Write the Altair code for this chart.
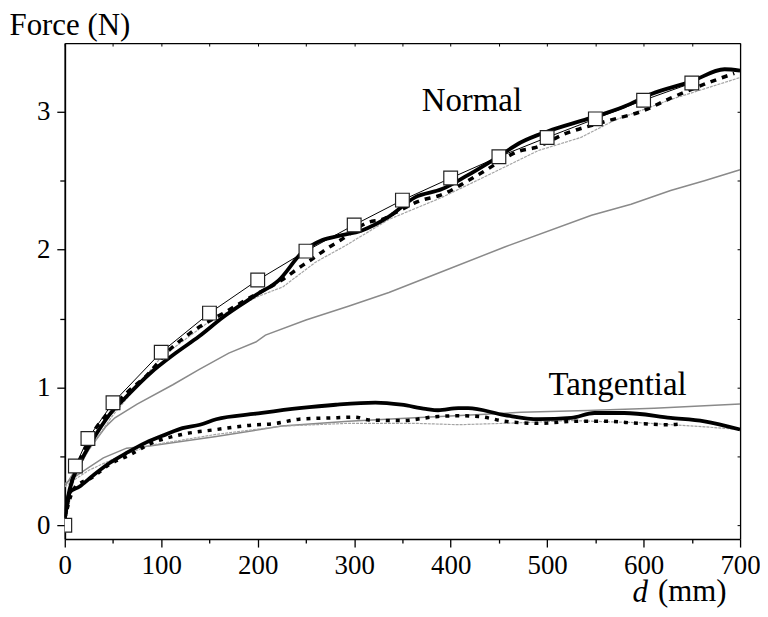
import altair as alt
import pandas as pd

# ---------------- data ----------------
# Normal force
n_sq_x = [0, 11, 24, 50, 100, 150, 200, 250, 300, 350, 400, 450, 500, 550, 600, 650]
n_sq_y = [0, 0.43, 0.63, 0.89, 1.256, 1.54, 1.78, 1.99, 2.18, 2.36, 2.52, 2.675, 2.815, 2.95, 3.085, 3.21]

n_thick_x = [0, 5, 15, 29, 46, 64, 88, 115, 139, 164, 198, 222, 246, 267, 284, 308, 336, 363, 391, 415, 446, 473, 501, 542, 580, 608, 649, 684, 700]
n_thick_y = [0.06, 0.26, 0.44, 0.62, 0.80, 0.935, 1.1, 1.25, 1.37, 1.51, 1.67, 1.78, 1.98, 2.07, 2.10, 2.14, 2.24, 2.38, 2.44, 2.53, 2.66, 2.78, 2.86, 2.95, 3.04, 3.13, 3.22, 3.31, 3.30]

n_dash_x = [0, 9, 19, 29, 43, 67, 84, 108, 129, 167, 194, 225, 244, 258, 272, 286, 315, 329, 343, 370, 387, 430, 473, 487, 518, 560, 600, 628, 670, 694]
n_dash_y = [0.05, 0.36, 0.525, 0.67, 0.80, 0.98, 1.08, 1.27, 1.39, 1.55, 1.66, 1.78, 1.875, 1.94, 2.01, 2.07, 2.2, 2.22, 2.27, 2.36, 2.39, 2.55, 2.72, 2.74, 2.84, 2.93, 3.01, 3.10, 3.22, 3.28]

n_hatch_x = [0, 10, 25, 50, 100, 150, 200, 226, 260, 291, 336, 391, 456, 491, 535, 570, 628, 700]
n_hatch_y = [0.0, 0.35, 0.55, 0.8, 1.22, 1.48, 1.66, 1.73, 1.91, 2.03, 2.22, 2.38, 2.6, 2.72, 2.815, 2.94, 3.09, 3.25]

n_gray_x = [0, 9, 25, 43, 52, 75, 112, 139, 170, 198, 208, 250, 294, 336, 398, 456, 546, 587, 628, 663, 700]
n_gray_y = [0.28, 0.38, 0.55, 0.72, 0.78, 0.88, 1.02, 1.13, 1.25, 1.33, 1.38, 1.49, 1.59, 1.69, 1.86, 2.02, 2.25, 2.33, 2.43, 2.50, 2.58]

# Tangential force
t_thick_x = [0, 5, 15, 29, 46, 64, 84, 105, 122, 140, 157, 198, 243, 281, 322, 349, 374, 387, 408, 418, 456, 491, 525, 549, 580, 628, 663, 700]
t_thick_y = [0.05, 0.24, 0.28, 0.36, 0.45, 0.525, 0.60, 0.66, 0.705, 0.73, 0.77, 0.81, 0.85, 0.875, 0.89, 0.875, 0.845, 0.835, 0.85, 0.85, 0.80, 0.77, 0.78, 0.815, 0.815, 0.78, 0.755, 0.695]

t_dot_x = [0, 10, 29, 46, 67, 88, 122, 157, 191, 219, 243, 277, 301, 315, 349, 387, 408, 429, 456, 491, 532, 560, 594, 625, 638]
t_dot_y = [0.05, 0.27, 0.35, 0.44, 0.51, 0.59, 0.66, 0.695, 0.725, 0.74, 0.77, 0.78, 0.785, 0.765, 0.76, 0.79, 0.795, 0.79, 0.755, 0.74, 0.755, 0.755, 0.74, 0.73, 0.735]

t_hatch_x = [0, 10, 25, 50, 88, 157, 225, 294, 363, 408, 456, 525, 594, 663, 700]
t_hatch_y = [0.28, 0.33, 0.4, 0.48, 0.58, 0.66, 0.72, 0.74, 0.74, 0.73, 0.74, 0.76, 0.745, 0.715, 0.695]

t_gray_x = [0, 10, 25, 40, 64, 88, 157, 225, 294, 363, 473, 542, 611, 700]
t_gray_y = [0.3, 0.35, 0.42, 0.49, 0.56, 0.575, 0.645, 0.72, 0.755, 0.78, 0.82, 0.834, 0.85, 0.88]

labels_text = ["Normal", "Tangential"]
labels_x = [422, 573]
labels_y = [3.01, 0.947]

x_major = list(range(0, 701, 100))
x_minor = list(range(50, 701, 100))
x_all = list(range(0, 701, 50))
y_major = [0, 1, 2, 3]
y_minor = [0.5, 1.5, 2.5]
y_all = [0, 0.5, 1, 1.5, 2, 2.5, 3]

FONT = "Liberation Serif"
XS = alt.Scale(domain=[0, 700], nice=False, zero=False)
YS = alt.Scale(domain=[-0.1, 3.5], nice=False, zero=False)
PLOT_W, PLOT_H = 678, 498


def df(xs, ys):
    return pd.DataFrame({"d": xs, "F": ys})


def line(xs, ys, color, width, dash=None, interp="monotone", xaxis=None, yaxis=None):
    kw = dict(color=color, strokeWidth=width, interpolate=interp, clip=True)
    if dash:
        kw["strokeDash"] = dash
    return alt.Chart(df(xs, ys)).mark_line(**kw).encode(
        x=alt.X("d:Q", scale=XS, axis=xaxis),
        y=alt.Y("F:Q", scale=YS, axis=yaxis),
    )


common = dict(grid=False, tickColor="black", domainColor="black")

# main labelled axes
bottom_major = alt.Axis(
    orient="bottom", values=x_major, title="(mm)", tickSize=8, tickWidth=1.3,
    labelPadding=6, labelFont=FONT, labelFontSize=27, labelColor="black",
    labelFlush=False, labelOverlap=False, domainWidth=1.5,
    titleFont=FONT, titleFontSize=31, titleFontWeight="normal",
    titleColor="black", titleAnchor="start", titleAlign="left",
    titleX=595, titleY=62, titleBaseline="alphabetic", **common,
)
left_major = alt.Axis(
    orient="left", values=y_major, title="Force (N)", tickSize=8, tickWidth=1.3,
    labelPadding=7, labelFont=FONT, labelFontSize=27, labelColor="black",
    labelFlush=False, labelOverlap=False, domainWidth=1.8,
    titleFont=FONT, titleFontSize=31, titleFontWeight="normal",
    titleColor="black", titleAngle=0, titleAlign="left", titleBaseline="alphabetic",
    titleX=-56, titleY=-9, **common,
)
# minor ticks on bottom / left
bottom_minor = alt.Axis(orient="bottom", values=x_minor, title=None, labels=False,
                        domain=False, tickSize=4, tickWidth=1.3, **common)
left_minor = alt.Axis(orient="left", values=y_minor, title=None, labels=False,
                      domain=False, tickSize=5, tickWidth=1.3, **common)
# top / right frame with inward ticks (bottom/left axes moved across the plot)
top_frame = alt.Axis(orient="bottom", offset=-PLOT_H, values=x_all, title=None,
                     labels=False, tickSize=3, tickWidth=1, domainWidth=1.3, **common)
right_frame = alt.Axis(orient="left", offset=-PLOT_W, values=y_all, title=None,
                       labels=False, tickSize=3, tickWidth=1, domainWidth=1.3, **common)

layers = [
    line(n_gray_x, n_gray_y, "#8a8a8a", 1.5, interp="linear", xaxis=bottom_major, yaxis=left_major),
    line(t_gray_x, t_gray_y, "#8a8a8a", 1.5, interp="linear", xaxis=bottom_minor, yaxis=left_minor),
    line(n_hatch_x, n_hatch_y, "#a4a4a4", 1.2, dash=[3, 1], interp="linear", xaxis=top_frame, yaxis=right_frame),
    line(t_hatch_x, t_hatch_y, "#a4a4a4", 1.2, dash=[3, 1], interp="linear"),
    line(n_sq_x, n_sq_y, "black", 1.0, interp="linear"),
    line(n_dash_x, n_dash_y, "black", 3.5, dash=[6, 6]),
    line(t_dot_x, t_dot_y, "black", 3.5, dash=[4, 6]),
    line(n_thick_x, n_thick_y, "black", 3.8),
    line(t_thick_x, t_thick_y, "black", 3.8),
    alt.Chart(df(n_sq_x, n_sq_y)).mark_point(
        shape="square", filled=True, fill="white", stroke="#222", strokeWidth=1.2,
        size=190, opacity=1, clip=True,
    ).encode(
        x=alt.X("d:Q", scale=XS, axis=None),
        y=alt.Y("F:Q", scale=YS, axis=None),
    ),
    alt.Chart(pd.DataFrame({"t": labels_text, "d": labels_x, "F": labels_y})).mark_text(
        font=FONT, fontSize=33, color="black", align="center", baseline="alphabetic",
    ).encode(
        x=alt.X("d:Q", scale=XS, axis=None),
        y=alt.Y("F:Q", scale=YS, axis=None),
        text="t:N",
    ),
    alt.Chart(pd.DataFrame({"t": ["d"]})).mark_text(
        font=FONT, fontSize=31, fontStyle="italic", color="black",
        align="left", baseline="alphabetic",
    ).encode(x=alt.value(570), y=alt.value(561), text="t:N"),
]

chart = alt.layer(*layers).resolve_axis(x="independent", y="independent").properties(
    width=PLOT_W, height=PLOT_H,
    autosize=alt.AutoSizeParams(type="none"),
    padding={"left": 57, "top": 34, "right": 20, "bottom": 69},
).configure_view(stroke=None).configure(background="white")

chart.save("out.html", embed_options={"renderer": "svg", "actions": False})
